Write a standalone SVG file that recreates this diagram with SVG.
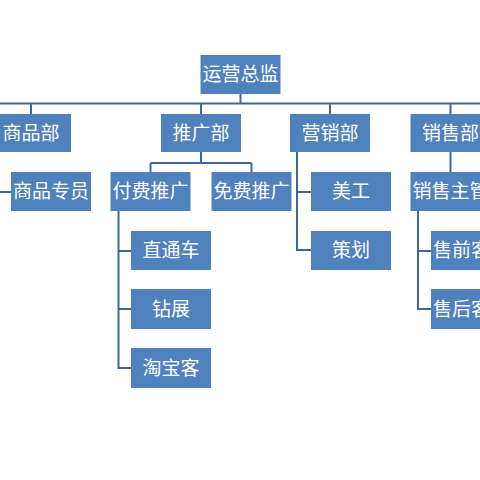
<svg xmlns="http://www.w3.org/2000/svg" width="480" height="480" viewBox="0 0 480 480">
<style>
.box{fill:#4F81BD;}
.t{fill:#ffffff;font-family:"Noto Sans CJK SC","Microsoft YaHei",sans-serif;font-size:19px;text-anchor:middle;}
.c{fill:none;stroke:#3E6797;stroke-width:2;}
</style>
<rect width="480" height="480" fill="#ffffff"/>
<g id="connectors">
<path class="c" d="M240.5 94V103.5M0 103.5H480M31 103.5V114M201 103.5V114M330 103.5V114M450.5 103.5V114"/>
<path class="c" d="M-1 152V192H11"/>
<path class="c" d="M201 152V163M150.5 163H251.5M150.5 163V172M251.5 163V172"/>
<path class="c" d="M118.5 211V368H131M118.5 251H131M118.5 309H131"/>
<path class="c" d="M297 152V250H311M297 192H311"/>
<path class="c" d="M450.5 152V172"/>
<path class="c" d="M418 211V309H431M418 251H431"/>
</g>
<g id="n-yunying"><rect class="box" x="200.5" y="55" width="80" height="39"/><text class="t" x="240.5" y="81">运营总监</text></g>
<g id="n-shangpinbu"><rect class="box" x="-9" y="114" width="80" height="38"/><text class="t" x="31" y="140">商品部</text></g>
<g id="n-tuiguangbu"><rect class="box" x="161" y="114" width="80" height="38"/><text class="t" x="201" y="140">推广部</text></g>
<g id="n-yingxiaobu"><rect class="box" x="290" y="114" width="80" height="38"/><text class="t" x="330" y="140">营销部</text></g>
<g id="n-xiaoshoubu"><rect class="box" x="410.5" y="114" width="80" height="38"/><text class="t" x="450.5" y="140">销售部</text></g>
<g id="n-shangpinzhuanyuan"><rect class="box" x="11" y="172" width="80" height="39"/><text class="t" x="51" y="198">商品专员</text></g>
<g id="n-fufei"><rect class="box" x="110.5" y="172" width="80" height="39"/><text class="t" x="150.5" y="198">付费推广</text></g>
<g id="n-mianfei"><rect class="box" x="211.5" y="172" width="80" height="39"/><text class="t" x="251.5" y="198">免费推广</text></g>
<g id="n-meigong"><rect class="box" x="311" y="172" width="80" height="39"/><text class="t" x="351" y="198">美工</text></g>
<g id="n-xiaoshouzhuguan"><rect class="box" x="410.5" y="172" width="80" height="39"/><text class="t" x="450.5" y="198">销售主管</text></g>
<g id="n-zhitongche"><rect class="box" x="131" y="231" width="80" height="39"/><text class="t" x="171" y="257">直通车</text></g>
<g id="n-zuanzhan"><rect class="box" x="131" y="289" width="80" height="40"/><text class="t" x="171" y="316">钻展</text></g>
<g id="n-taobaoke"><rect class="box" x="131" y="348" width="80" height="40"/><text class="t" x="171" y="375">淘宝客</text></g>
<g id="n-cehua"><rect class="box" x="311" y="231" width="80" height="39"/><text class="t" x="351" y="257">策划</text></g>
<g id="n-shouqian"><rect class="box" x="431" y="231" width="80" height="39"/><text class="t" x="471" y="257">售前客服</text></g>
<g id="n-shouhou"><rect class="box" x="431" y="289" width="80" height="40"/><text class="t" x="471" y="316">售后客服</text></g>
</svg>
